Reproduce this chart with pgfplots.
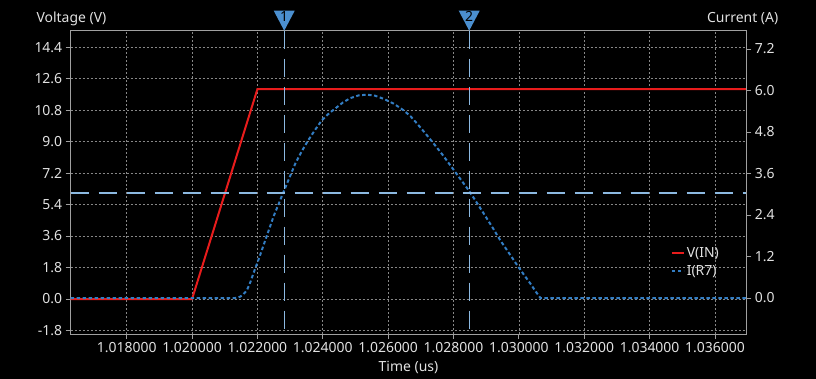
\documentclass[border=0pt]{standalone}
\usepackage{fontspec}
\setmainfont{Noto Sans}
\usepackage{pgfplots}
\pgfplotsset{compat=1.18}
\definecolor{framec}{RGB}{160,160,160}
\definecolor{gridc}{RGB}{135,135,135}
\definecolor{txt}{RGB}{225,225,225}
\definecolor{vred}{RGB}{232,28,28}
\definecolor{iblue}{RGB}{50,125,195}
\definecolor{cur}{RGB}{140,185,225}
\definecolor{markc}{RGB}{75,143,207}
\newcommand{\fs}{\fontsize{14}{16}\selectfont}
\pgfplotsset{
 common/.style={
  scale only axis, width=675.6bp, height=303.3bp,
  at={(0,0)}, anchor=south west,
  xmin=16.287, xmax=36.958,
  axis line style={framec, line width=0.9bp},
  tick style={framec, line width=0.9bp},
  tick align=outside, major tick length=5bp,
  ticklabel style={font=\fs, text=txt},
 }
}
\begin{document}
\begin{tikzpicture}
\fill[black] (-70.7bp,-45bp) rectangle (745.3bp,334bp);
\begin{axis}[common,
 ymin=-2.0, ymax=15.34,
 xtick={18,20,22,24,26,28,30,32,34,36},
 xticklabels={1.018000,1.020000,1.022000,1.024000,1.026000,1.028000,1.030000,1.032000,1.034000,1.036000},
 ytick={-1.8,0,1.8,3.6,5.4,7.2,9.0,10.8,12.6,14.4},
 yticklabels={-1.8,0.0,1.8,3.6,5.4,7.2,9.0,10.8,12.6,14.4},
 xtick pos=bottom, ytick pos=left,
 grid=major, grid style={gridc, dash pattern=on 2bp off 2bp, line width=0.7bp},
 xlabel={Time (us)}, ylabel={Voltage (V)},
 every axis y label/.style={at={(rel axis cs:0,1)}, anchor=base west, xshift=-37.7bp, yshift=8.5bp, font=\fs, text=txt},
 every axis x label/.style={at={(rel axis cs:0.5,0)}, anchor=base, yshift=-37bp, font=\fs, text=txt},
]
\addplot[vred, line width=2bp] coordinates {(16.287,0) (20,0) (22,12) (36.958,12)};
\end{axis}
\begin{axis}[common,
 axis x line=none, axis y line*=right,
 ymin=-1.04, ymax=7.73, clip=false,
 ytick={0,1.2,2.4,3.6,4.8,6.0,7.2},
 yticklabels={0.0,1.2,2.4,3.6,4.8,6.0,7.2},
 ylabel={Current (A)},
 every axis y label/.style={at={(rel axis cs:1,1)}, anchor=base east, xshift=35.4bp, yshift=8.5bp, font=\fs, text=txt},
 legend style={at={(rel axis cs:0.888,0.293)}, anchor=north west, draw=none, fill=none, text=txt, font=\fs, inner sep=0pt, row sep=3bp},
 legend cell align=left,
 legend image code/.code={\draw[#1] (0bp,0bp) -- (12bp,0bp);},
]
\addlegendimage{vred, line width=2bp}
\addlegendentry{V(IN)}
\addplot[iblue, line width=2bp, dash pattern=on 3.5bp off 2.5bp, line join=round] coordinates {
(16.287,0) (21.30,0) (21.40,0.01) (21.47,0.04) (21.55,0.09) (21.62,0.16) (21.68,0.23) (21.78,0.45) (21.88,0.72) (22.03,1.10) (22.24,1.67) (22.49,2.35) (22.80,3.07) (23.16,3.89) (23.36,4.25) (23.56,4.57) (23.77,4.87) (23.97,5.14) (24.18,5.33) (24.38,5.48) (24.61,5.65) (24.84,5.78) (25.10,5.86) (25.35,5.88) (25.60,5.85) (25.86,5.76) (26.17,5.62) (26.47,5.43) (26.68,5.26) (26.88,5.05) (27.13,4.77) (27.39,4.47) (27.65,4.16) (27.90,3.84) (28.18,3.48) (28.46,3.12) (28.69,2.79) (28.92,2.45) (29.18,2.06) (29.43,1.67) (29.69,1.31) (29.94,0.96) (30.15,0.68) (30.35,0.42) (30.52,0.18) (30.66,0) (36.958,0)};
\addlegendentry{I(R7)}
\addplot[cur, line width=2bp, dash pattern=on 18.7bp off 9.3bp, forget plot] coordinates {(16.287,3.05) (36.958,3.05)};
\addplot[cur, line width=1.3bp, dash pattern=on 18bp off 10bp, forget plot] coordinates {(22.82,7.73) (22.82,-1.04)};
\addplot[cur, line width=1.3bp, dash pattern=on 18bp off 10bp, forget plot] coordinates {(28.48,7.73) (28.48,-1.04)};
\fill[markc] (axis cs:22.82,7.73) -- ++(-10.5bp,20bp) -- ++(21bp,0bp) -- cycle;
\fill[markc] (axis cs:28.48,7.73) -- ++(-10.5bp,20bp) -- ++(21bp,0bp) -- cycle;
\node[font=\fs, text=black, yshift=14bp] at (axis cs:22.82,7.73) {1};
\node[font=\fs, text=black, yshift=14bp] at (axis cs:28.48,7.73) {2};
\end{axis}
\pgfresetboundingbox
\useasboundingbox (-70.7bp,-45bp) rectangle (745.3bp,334bp);
\end{tikzpicture}
\end{document}
